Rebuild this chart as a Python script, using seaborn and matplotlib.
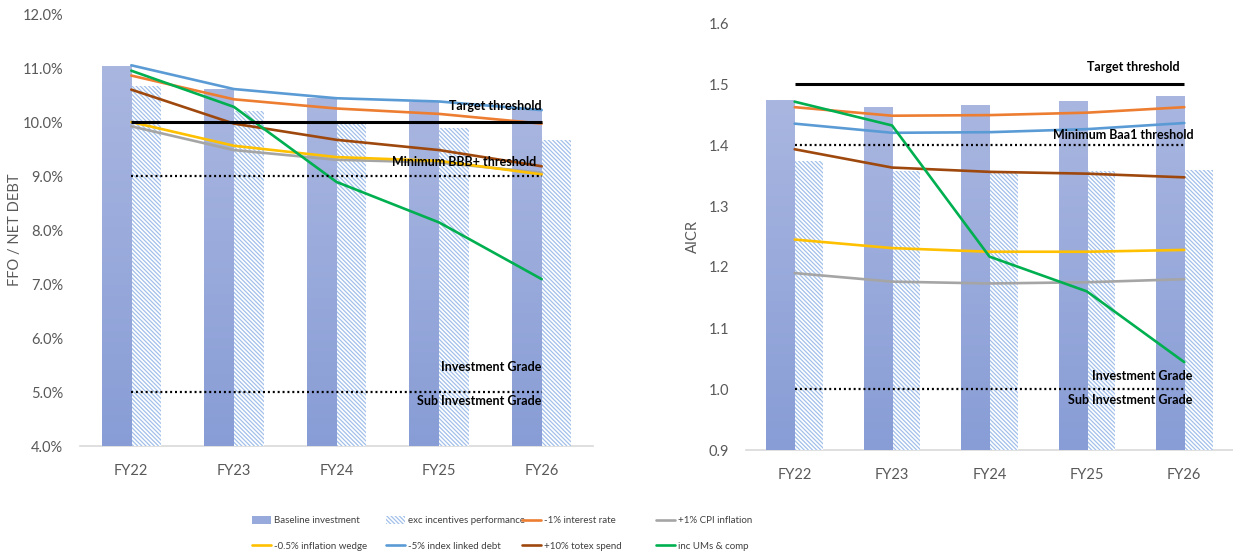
import numpy as np
import pandas as pd
import matplotlib
matplotlib.use("Agg")
import matplotlib.pyplot as plt
import seaborn as sns
from matplotlib.colors import LinearSegmentedColormap
from matplotlib.patches import Patch
from matplotlib.lines import Line2D
from matplotlib.ticker import FuncFormatter, MultipleLocator

# ---- data -------------------------------------------------------------
years = ["FY22", "FY23", "FY24", "FY25", "FY26"]

# FFO / net debt (%)
baseline_ffo = [11.03, 10.61, 10.44, 10.37, 10.25]
exc_incentives_ffo = [10.66, 10.20, 9.98, 9.88, 9.66]
interest_ffo = [10.86, 10.42, 10.25, 10.15, 9.97]
cpi_ffo = [9.92, 9.48, 9.30, 9.25, 9.06]
wedge_ffo = [10.00, 9.56, 9.35, 9.28, 9.03]
ild_ffo = [11.05, 10.61, 10.44, 10.38, 10.22]
totex_ffo = [10.60, 9.97, 9.67, 9.48, 9.18]
ums_ffo = [10.95, 10.28, 8.89, 8.14, 7.09]

# AICR
baseline_aicr = [1.473, 1.462, 1.464, 1.471, 1.479]
exc_incentives_aicr = [1.374, 1.358, 1.354, 1.357, 1.359]
interest_aicr = [1.462, 1.448, 1.449, 1.453, 1.462]
cpi_aicr = [1.190, 1.176, 1.173, 1.175, 1.180]
wedge_aicr = [1.245, 1.231, 1.225, 1.225, 1.228]
ild_aicr = [1.435, 1.420, 1.421, 1.426, 1.436]
totex_aicr = [1.393, 1.363, 1.356, 1.353, 1.347]
ums_aicr = [1.471, 1.432, 1.217, 1.160, 1.044]

# thresholds
ffo_target, ffo_min, ffo_ig = 10.0, 9.0, 5.0
aicr_target, aicr_min, aicr_ig = 1.5, 1.4, 1.0

bar_names = ["Baseline investment", "exc incentives performance"]
line_names = ["-1% interest rate", "+1% CPI inflation", "-0.5% inflation wedge",
              "-5% index linked debt", "+10% totex spend", "inc UMs & comp"]
line_colors = ["#ED7D31", "#A5A5A5", "#FFC000", "#5B9BD5", "#9E480E", "#00B050"]

# ---- style ------------------------------------------------------------
sns.set_theme(style="white")
plt.rcParams["font.family"] = ["Lato", "DejaVu Sans"]
plt.rcParams["hatch.linewidth"] = 0.9

TEXT_GREY = "#595959"
BAR_TOP, BAR_BOTTOM = "#a9b6e0", "#889dd6"
HATCH_COLOR = "#a3c0ea"
HATCH = "\\" * 8

fig = plt.figure(figsize=(12.33, 5.56), dpi=100)
W, H = 1233, 556
ax_l = fig.add_axes([80 / W, 1 - 446 / H, 513 / W, 432 / H])
ax_r = fig.add_axes([746 / W, 1 - 450 / H, 487 / W, 427 / H])

grad_cmap = LinearSegmentedColormap.from_list("bar_grad", [BAR_BOTTOM, BAR_TOP])
grad = np.linspace(0, 1, 256).reshape(-1, 1)


def draw_panel(ax, baseline, exc, lines, ylim, step, fmt, ylabel,
               target, minimum, ig, labels):
    df = pd.DataFrame({
        "year": years * 2,
        "series": [bar_names[0]] * 5 + [bar_names[1]] * 5,
        "value": list(baseline) + list(exc),
    })
    sns.barplot(data=df, x="year", y="value", hue="series",
                palette=["#98aadb", "white"], width=0.58, saturation=1,
                legend=False, ax=ax, zorder=1)
    ax.set_ylim(*ylim)
    ax.set_xlim(-0.5, 4.5)

    # solid bars: vertical gradient fill
    for p in ax.containers[0]:
        x0, w, top = p.get_x(), p.get_width(), p.get_y() + p.get_height()
        ax.imshow(grad, cmap=grad_cmap, origin="lower", aspect="auto",
                  extent=[x0, x0 + w, ylim[0], top], zorder=1.5,
                  interpolation="bilinear")
    # second series: hatched bars
    for p in ax.containers[1]:
        p.set_facecolor("white")
        p.set_hatch(HATCH)
        p.set_edgecolor(HATCH_COLOR)
        p.set_linewidth(0)
    ax.set_xlim(-0.5, 4.5)
    ax.set_ylim(*ylim)

    pos = np.arange(len(years))
    for vals, c in zip(lines, line_colors):
        sns.lineplot(x=pos, y=vals, color=c, lw=1.9, ax=ax, zorder=3)

    # thresholds
    ax.plot([pos[0], pos[-1]], [target] * 2, color="black", lw=2.2, zorder=4,
            solid_capstyle="butt")
    for yv in (minimum, ig):
        ax.plot([pos[0], pos[-1]], [yv] * 2, color="black", lw=1.6, zorder=4,
                linestyle=(0, (0.9, 1.3)))

    for (xt, yt, txt) in labels:
        ax.text(xt, yt, txt, ha="right", va="center", fontsize=9,
                fontweight="bold", color="black", zorder=5)

    ax.yaxis.set_major_locator(MultipleLocator(step))
    ax.yaxis.set_major_formatter(FuncFormatter(fmt))
    ax.tick_params(axis="y", length=0, pad=12, labelsize=10.5, labelcolor=TEXT_GREY)
    ax.tick_params(axis="x", length=0, pad=13, labelsize=10.5, labelcolor=TEXT_GREY)
    ax.set_xlabel("")
    ax.set_ylabel(ylabel, fontsize=10.5, color=TEXT_GREY)
    for s in ("left", "right", "top"):
        ax.spines[s].set_visible(False)
    ax.spines["bottom"].set_color("#d9d9d9")
    ax.spines["bottom"].set_linewidth(1.2)
    ax.spines["bottom"].set_zorder(0)


draw_panel(ax_l, baseline_ffo, exc_incentives_ffo,
           [interest_ffo, cpi_ffo, wedge_ffo, ild_ffo, totex_ffo, ums_ffo],
           (4.0, 12.0), 1.0, lambda v, _: f"{v:.1f}%", "FFO / NET DEBT",
           ffo_target, ffo_min, ffo_ig,
           [(4.0, 10.30, "Target threshold"),
            (3.95, 9.26, "Minimum BBB+ threshold"),
            (4.0, 5.46, "Investment Grade"),
            (4.0, 4.83, "Sub Investment Grade")])
ax_l.yaxis.set_label_coords(-0.113, 0.5)

draw_panel(ax_r, baseline_aicr, exc_incentives_aicr,
           [interest_aicr, cpi_aicr, wedge_aicr, ild_aicr, totex_aicr, ums_aicr],
           (0.9, 1.6), 0.1, lambda v, _: f"{v:.1f}", "AICR",
           aicr_target, aicr_min, aicr_ig,
           [(3.95, 1.528, "Target threshold"),
            (4.1, 1.417, "Minimum Baa1 threshold"),
            (4.08, 1.021, "Investment Grade"),
            (4.08, 0.982, "Sub Investment Grade")])
ax_r.yaxis.set_label_coords(-0.094, 0.5)

# ---- legend: four columns of two entries --------------------------------
LEG_SIZE = 7.0


def line_handle(c):
    return Line2D([], [], color=c, lw=1.9)


bar_handle = Patch(facecolor="#98aadb", edgecolor="none")
hatch_handle = Patch(facecolor="white", edgecolor=HATCH_COLOR, hatch=HATCH, lw=0)
columns = [
    ([bar_handle, line_handle(line_colors[2])], [bar_names[0], line_names[2]], 252),
    ([hatch_handle, line_handle(line_colors[3])], [bar_names[1], line_names[3]], 386),
    ([line_handle(line_colors[0]), line_handle(line_colors[4])], [line_names[0], line_names[4]], 522),
    ([line_handle(line_colors[1]), line_handle(line_colors[5])], [line_names[1], line_names[5]], 656),
]
for handles, labels, xpx in columns:
    fig.legend(handles, labels, loc="center left",
               bbox_to_anchor=(xpx / W, 1 - 533.5 / H), frameon=False,
               fontsize=LEG_SIZE,
               handlelength=1.75 * 8 / LEG_SIZE, handleheight=0.9,
               handletextpad=0.25, labelspacing=1.45 * 8 / LEG_SIZE,
               borderpad=0, borderaxespad=0, labelcolor="#404040")

fig.savefig("out.png", dpi=100)
